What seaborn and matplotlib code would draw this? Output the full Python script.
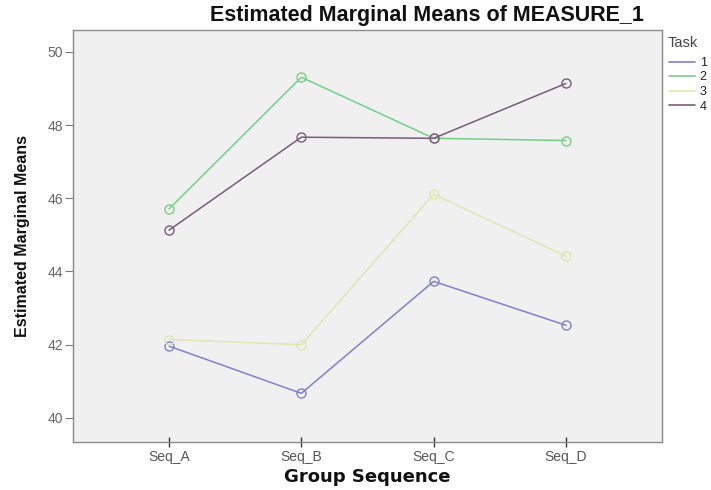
import matplotlib
matplotlib.use("Agg")
import matplotlib.pyplot as plt
import seaborn as sns
import pandas as pd

# Estimated marginal means of MEASURE_1 by group sequence and task
sequences = ["Seq_A", "Seq_B", "Seq_C", "Seq_D"]
task_1 = [41.96, 40.67, 43.73, 42.53]
task_2 = [45.71, 49.31, 47.64, 47.58]
task_3 = [42.14, 42.00, 46.11, 44.42]
task_4 = [45.13, 47.67, 47.64, 49.14]
tasks = ["1", "2", "3", "4"]
y_ticks = [40, 42, 44, 46, 48, 50]

colors = ["#8080d2", "#74cf86", "#e0e6b0", "#7b5a7e"]

rows = []
for t, vals in zip(tasks, [task_1, task_2, task_3, task_4]):
    for s, v in zip(sequences, vals):
        rows.append({"Group Sequence": s, "mean": v, "Task": t})
df = pd.DataFrame(rows)

sns.set_style("white")
plt.rcParams["font.family"] = ["Liberation Sans", "DejaVu Sans"]

fig = plt.figure(figsize=(7.11, 4.90), dpi=100)
ax = fig.add_axes([73 / 711, 1 - 442 / 490, 589 / 711, 412 / 490])
ax.set_facecolor("#f0f0f0")

sns.lineplot(data=df, x="Group Sequence", y="mean", hue="Task",
             palette=colors, marker="o", markersize=6.5,
             markerfacecolor="none", markeredgewidth=1.0,
             linewidth=1.1, sort=False, ax=ax, legend=True)

# open circles outlined in the series colour
for line in ax.get_lines():
    line.set_markeredgecolor(line.get_color())

ax.set_xlim(-0.726, 3.726)
ax.set_ylim(39.34, 50.6)
ax.set_yticks(y_ticks)
ax.set_yticklabels([str(v) for v in y_ticks])

for sp in ax.spines.values():
    sp.set_color("#8a8a8a")
    sp.set_linewidth(1.0)

ax.tick_params(axis="y", direction="out", length=6, width=0.8, color="#777777",
               labelsize=10, labelcolor="#666666", pad=1, left=True)
ax.tick_params(axis="x", direction="inout", length=7, width=1.0, color="#333333",
               labelsize=10, labelcolor="#555555", pad=2, bottom=True)

ax.set_xlabel("Group Sequence", fontsize=13, fontweight="bold",
              family=["DejaVu Sans"], labelpad=3, color="#111111")
ax.set_ylabel("Estimated Marginal Means",
              fontsize=11.5, fontweight="bold",
              family=["Liberation Sans Narrow", "Liberation Sans", "DejaVu Sans"],
              labelpad=13, color="#111111")

fig.text(427 / 711, 1 - 15 / 490, "Estimated Marginal Means of MEASURE_1",
         ha="center", va="center", fontsize=15.5, fontweight="bold",
         color="#111111")

# legend title set apart from the entries
fig.text(668 / 711, 1 - 43 / 490, "Task", ha="left", va="center",
         fontsize=10.5, color="#444444")
leg = ax.legend(loc="upper left", bbox_to_anchor=(669 / 711, 1 - 57 / 490),
                bbox_transform=fig.transFigure,
                frameon=False, fontsize=9,
                handlelength=2.1, handletextpad=0.35, labelspacing=0.2,
                borderaxespad=0.0, borderpad=0.0)
for h in leg.get_lines():
    h.set_marker("")
    h.set_linewidth(1.2)
for txt in leg.get_texts():
    txt.set_color("#222222")

fig.savefig("out.png", dpi=100, facecolor="white")
